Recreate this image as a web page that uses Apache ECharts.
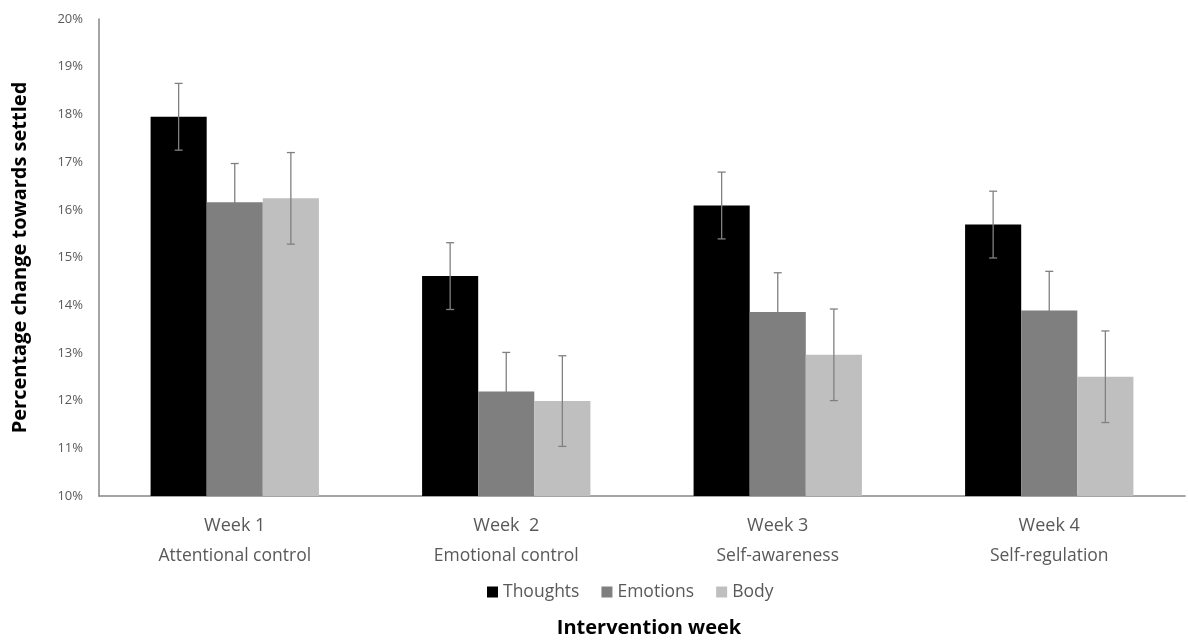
<!DOCTYPE html>
<html>
<head>
<meta charset="utf-8">
<script src="https://cdn.jsdelivr.net/npm/echarts@6/dist/echarts.min.js"></script>
<style>
  html, body { margin: 0; padding: 0; background: #fff; }
  #chart { width: 1188px; height: 642px; }
</style>
</head>
<body>
<div id="chart"></div>
<script>
// Categories: week label and training focus
const weeks = ['Week 1', 'Week  2', 'Week 3', 'Week 4'];
const focus = ['Attentional control', 'Emotional control', 'Self-awareness', 'Self-regulation'];

// Mean percentage change towards settled
const thoughts = [17.95, 14.61, 16.09, 15.69];
const emotions = [16.16, 12.19, 13.86, 13.89];
const body = [16.24, 11.99, 12.96, 12.50];

// Error bar half-widths (percentage points)
const thoughtsErr = [0.70, 0.70, 0.70, 0.70];
const emotionsErr = [0.81, 0.82, 0.82, 0.82];
const bodyErr = [0.96, 0.95, 0.96, 0.96];

const seriesNames = ['Thoughts', 'Emotions', 'Body'];
const seriesColors = ['#000000', '#7f7f7f', '#bfbfbf'];
const seriesValues = [thoughts, emotions, body];
const seriesErrors = [thoughtsErr, emotionsErr, bodyErr];

const categoryGap = 0.38;
const labelFont = 'Open Sans, Noto Sans, sans-serif';

function errorSeries(idx) {
  const vals = seriesValues[idx];
  const errs = seriesErrors[idx];
  return {
    type: 'custom',
    name: seriesNames[idx] + ' error',
    silent: true,
    z: 10,
    data: vals.map((v, i) => [i, v - errs[i], v + errs[i]]),
    renderItem: function (params, api) {
      const band = api.size([1, 0])[0];
      const barW = band * (1 - categoryGap) / 3;
      const offset = (idx - 1) * barW;
      const lo = api.coord([api.value(0), api.value(1)]);
      const hi = api.coord([api.value(0), api.value(2)]);
      const x = lo[0] + offset;
      const cap = 4;
      const style = { stroke: '#808080', lineWidth: 1.3 };
      return {
        type: 'group',
        children: [
          { type: 'line', shape: { x1: x, y1: lo[1], x2: x, y2: hi[1] }, style: style },
          { type: 'line', shape: { x1: x - cap, y1: lo[1], x2: x + cap, y2: lo[1] }, style: style },
          { type: 'line', shape: { x1: x - cap, y1: hi[1], x2: x + cap, y2: hi[1] }, style: style }
        ]
      };
    }
  };
}

const barSeries = seriesNames.map((name, idx) => ({
  type: 'bar',
  name: name,
  data: seriesValues[idx],
  barGap: '0%',
  barCategoryGap: (categoryGap * 100) + '%',
  itemStyle: { color: seriesColors[idx] },
  emphasis: { disabled: true }
}));

const chart = echarts.init(document.getElementById('chart'));
chart.setOption({
  animation: false,
  grid: { left: 99, right: 3, top: 19, bottom: 146, outerBoundsMode: 'none', containLabel: false },
  legend: {
    data: seriesNames,
    top: 578,
    left: 482,
    itemWidth: 11,
    itemHeight: 11,
    itemGap: 22,
    icon: 'rect',
    textStyle: { fontFamily: labelFont, fontSize: 17.5, color: '#595959' }
  },
  xAxis: {
    type: 'category',
    data: weeks,
    name: 'Intervention week',
    nameLocation: 'middle',
    nameGap: 122,
    nameTextStyle: {
      fontFamily: labelFont, fontSize: 20, fontWeight: 'bold', color: '#000',
      padding: [0, 0, 0, 14]
    },
    axisLine: { lineStyle: { color: '#868686', width: 1.5 } },
    axisTick: { show: false },
    axisLabel: {
      interval: 0,
      margin: 15,
      formatter: function (value, i) {
        return '{w|' + value + '}\n{f|' + focus[i] + '}';
      },
      rich: {
        w: { fontFamily: labelFont, fontSize: 18, color: '#595959', lineHeight: 30 },
        f: { fontFamily: labelFont, fontSize: 17.5, color: '#595959', lineHeight: 30 }
      }
    }
  },
  yAxis: {
    type: 'value',
    min: 10,
    max: 20,
    interval: 1,
    name: 'Percentage change towards settled',
    nameLocation: 'middle',
    nameGap: 69,
    nameTextStyle: { fontFamily: labelFont, fontSize: 20, fontWeight: 'bold', color: '#000' },
    axisLine: { show: true, lineStyle: { color: '#868686', width: 1.5 } },
    axisTick: { show: false },
    splitLine: { show: false },
    axisLabel: {
      margin: 16,
      formatter: '{value}%',
      fontFamily: labelFont,
      fontSize: 13,
      color: '#595959'
    }
  },
  series: barSeries.concat([errorSeries(0), errorSeries(1), errorSeries(2)])
});
</script>
</body>
</html>
